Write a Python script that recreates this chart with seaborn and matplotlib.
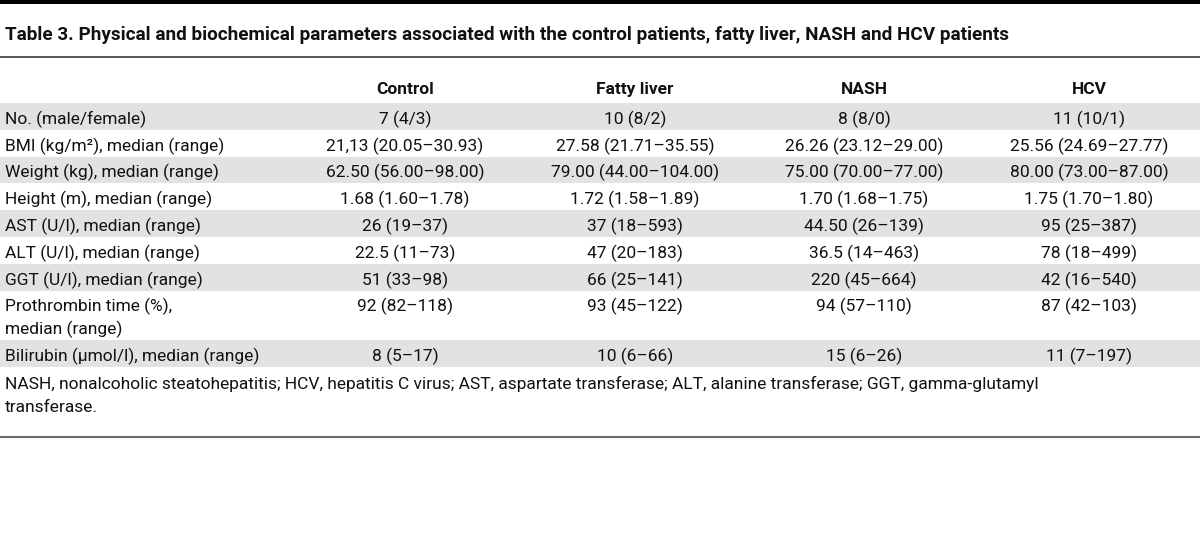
import matplotlib.pyplot as plt
import seaborn as sns

# ===== DATA =====
title = ("Table 3. Physical and biochemical parameters associated with the control "
         "patients, fatty liver, NASH and HCV patients")
groups = ["Control", "Fatty liver", "NASH", "HCV"]
row_labels = [
    "No. (male/female)",
    "BMI (kg/m²), median (range)",
    "Weight (kg), median (range)",
    "Height (m), median (range)",
    "AST (U/l), median (range)",
    "ALT (U/l), median (range)",
    "GGT (U/l), median (range)",
    "Prothrombin time (%),\nmedian (range)",
    "Bilirubin (μmol/l), median (range)",
]
control = ["7 (4/3)", "21,13 (20.05–30.93)", "62.50 (56.00–98.00)", "1.68 (1.60–1.78)",
           "26 (19–37)", "22.5 (11–73)", "51 (33–98)", "92 (82–118)", "8 (5–17)"]
fatty_liver = ["10 (8/2)", "27.58 (21.71–35.55)", "79.00 (44.00–104.00)", "1.72 (1.58–1.89)",
               "37 (18–593)", "47 (20–183)", "66 (25–141)", "93 (45–122)", "10 (6–66)"]
nash = ["8 (8/0)", "26.26 (23.12–29.00)", "75.00 (70.00–77.00)", "1.70 (1.68–1.75)",
        "44.50 (26–139)", "36.5 (14–463)", "220 (45–664)", "94 (57–110)", "15 (6–26)"]
hcv = ["11 (10/1)", "25.56 (24.69–27.77)", "80.00 (73.00–87.00)", "1.75 (1.70–1.80)",
       "95 (25–387)", "78 (18–499)", "42 (16–540)", "87 (42–103)", "11 (7–197)"]
footnote = ["NASH, nonalcoholic steatohepatitis; HCV, hepatitis C virus; AST, aspartate "
            "transferase; ALT, alanine transferase; GGT, gamma-glutamyl",
            "transferase."]

# ===== STYLE =====
sns.set_theme(style="white")
plt.rcParams['font.family'] = ['Roboto', 'DejaVu Sans']
TEXT = "#111111"
SHADE = "#e1e2e4"

# ===== LAYOUT (pixel units) =====
W, H = 1200, 537
col_x = [405, 635, 864, 1089]
row_top = 103
row_h = 26.8
line_h = 23
body_size = 12.5

fig = plt.figure(figsize=(W / 100, H / 100), dpi=100)
ax = fig.add_axes([0, 0, 1, 1])
ax.set_xlim(0, W)
ax.set_ylim(H, 0)
ax.axis('off')

# top band + title
ax.axhspan(0, 4, color='black', lw=0)
ax.text(5, 39.5, title, fontsize=13.6, fontweight='bold', va='baseline', ha='left', color=TEXT)
ax.axhline(57, color='#2a2a2a', lw=1.1)

# header
for x, g in zip(col_x, groups):
    ax.text(x, 94, g, fontsize=body_size, fontweight='bold', ha='center', va='baseline', color=TEXT)

# rows
columns = [control, fatty_liver, nash, hcv]
y = row_top
for i, label in enumerate(row_labels):
    lines = label.split("\n")
    h = row_h + (len(lines) - 1) * line_h
    if i % 2 == 0:
        ax.axhspan(y, y + h, color=SHADE, lw=0, zorder=0)
    for k, part in enumerate(lines):
        ax.text(5, y + 21 + k * line_h, part, fontsize=body_size, ha='left', va='baseline', color=TEXT)
    for x, col in zip(col_x, columns):
        ax.text(x, y + 21, col[i], fontsize=body_size, ha='center', va='baseline', color=TEXT)
    y += h

# footnote
for k, part in enumerate(footnote):
    ax.text(5, y + 22 + k * 23, part, fontsize=body_size, ha='left', va='baseline', color=TEXT)
ax.axhline(437, color='#6b6b6b', lw=1.5)

fig.savefig('out.png', dpi=100)
plt.close(fig)
